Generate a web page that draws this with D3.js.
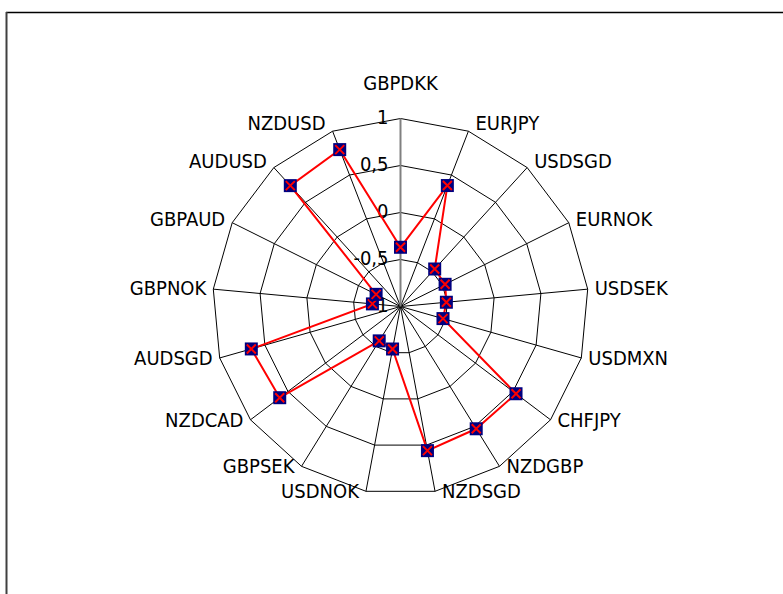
<!DOCTYPE html>
<html lang="en">
    <head>
        <meta charset="UTF-8">
        <title>Radar</title>
        <style>
            body {
                margin: 0;
                background: #fff;
            }
            svg {
                display: block;
            }
            text {
                font-family: "DejaVu Sans Condensed", "DejaVu Sans", sans-serif;
                font-stretch: condensed;
                font-size: 20px;
                fill: #000;
            }
            .grid {
                fill: none;
                stroke: #000;
                stroke-width: 1px;
            }
            .spoke {
                stroke: #000;
                stroke-width: 1px;
            }
            .value-axis {
                stroke: #808080;
                stroke-width: 2px;
            }
            .line {
                fill: none;
                stroke: #ff0000;
                stroke-width: 2px;
            }
            .dot {
                fill: #000080;
            }
            .cross {
                stroke: #ff0000;
                stroke-width: 2px;
            }
        </style>
    </head>

    <body>
        <script src="https://d3js.org/d3.v7.min.js"></script>
        <script>

            var categories = ["GBPDKK", "EURJPY", "USDSGD", "EURNOK", "USDSEK", "USDMXN", "CHFJPY", "NZDGBP", "NZDSGD",
                              "USDNOK", "GBPSEK", "NZDCAD", "AUDSGD", "GBPNOK", "GBPAUD", "AUDUSD", "NZDUSD"];
            var values = [-0.37, 0.38, -0.46, -0.47, -0.51, -0.53, 0.54, 0.53, 0.56,
                          -0.54, -0.57, 0.61, 0.65, -0.70, -0.71, 0.74, 0.79];
            var ticks = [-1, -0.5, 0, 0.5, 1];
            var tickLabels = ["-1", "-0,5", "0", "0,5", "1"];

            var width = 783,
                height = 594,
                cx = 400.5,
                cy = 306.5,
                radius = 188;

            var r = d3.scaleLinear()
                .domain([-1, 1])
                .range([0, radius]);

            var angle = d3.scalePoint()
                .domain(categories)
                .range([0, 2 * Math.PI * (categories.length - 1) / categories.length]);

            function px(c, v) { return Math.sin(angle(c)) * r(v); }
            function py(c, v) { return -Math.cos(angle(c)) * r(v); }

            var svg = d3.select("body").append("svg")
                .attr("width", width)
                .attr("height", height);

            // frame, cut off on the right and at the bottom
            svg.append("line")
                .attr("x1", 6).attr("x2", width).attr("y1", 12.5).attr("y2", 12.5)
                .attr("stroke", "#000").attr("stroke-width", 1.5);
            svg.append("line")
                .attr("x1", 6.5).attr("x2", 6.5).attr("y1", 12).attr("y2", height)
                .attr("stroke", "#404040").attr("stroke-width", 2);

            var g = svg.append("g")
                .attr("transform", "translate(" + cx + "," + cy + ")");

            // rings
            g.selectAll(".grid")
                .data(ticks.filter(function(t) { return t > -1; }))
                .enter().append("polygon")
                .attr("class", "grid")
                .attr("points", function(t) {
                    return categories.map(function(c) { return px(c, t) + "," + py(c, t); }).join(" ");
                });

            // spokes
            g.selectAll(".spoke")
                .data(categories.slice(1))
                .enter().append("line")
                .attr("class", "spoke")
                .attr("x1", 0).attr("y1", 0)
                .attr("x2", function(c) { return px(c, 1); })
                .attr("y2", function(c) { return py(c, 1); });

            g.append("line")
                .attr("class", "value-axis")
                .attr("x1", 0).attr("y1", 0)
                .attr("x2", px(categories[0], 1))
                .attr("y2", py(categories[0], 1));

            // tick labels on the value axis
            g.selectAll(".tick")
                .data(ticks)
                .enter().append("text")
                .attr("class", "tick")
                .attr("x", -12)
                .attr("y", function(t) { return -r(t) - 2; })
                .attr("text-anchor", "end")
                .attr("dominant-baseline", "central")
                .text(function(t, i) { return tickLabels[i]; });

            // category labels
            g.selectAll(".cat")
                .data(categories)
                .enter().append("text")
                .attr("class", "cat")
                .attr("x", function(c) {
                    var s = Math.sin(angle(c));
                    if (Math.abs(s) < 0.01) return px(c, 1);
                    return px(c, 1) + (s > 0 ? 7 : -7);
                })
                .attr("y", function(c) {
                    var k = Math.cos(angle(c));
                    if (Math.abs(Math.sin(angle(c))) < 0.01) return py(c, 1) - 36;
                    return py(c, 1) - 9 * Math.max(k, 0);
                })
                .attr("text-anchor", function(c) {
                    var s = Math.sin(angle(c));
                    if (Math.abs(s) < 0.01) return "middle";
                    return s > 0 ? "start" : "end";
                })
                .attr("dominant-baseline", "central")
                .text(function(c) { return c; });

            // series
            var data = categories.map(function(c, i) { return {c: c, v: values[i]}; });

            var line = d3.lineRadial()
                .angle(function(d) { return angle(d.c); })
                .radius(function(d) { return r(d.v); })
                .curve(d3.curveLinearClosed);

            g.append("path")
                .datum(data)
                .attr("class", "line")
                .attr("d", line);

            var m = g.selectAll(".marker")
                .data(data)
                .enter().append("g")
                .attr("class", "marker")
                .attr("transform", function(d) {
                    return "translate(" + px(d.c, d.v) + "," + py(d.c, d.v) + ")";
                });

            m.append("rect")
                .attr("class", "dot")
                .attr("x", -6.5).attr("y", -6.5)
                .attr("width", 13).attr("height", 13);

            m.append("path")
                .attr("class", "cross")
                .attr("d", "M-4.5,-4.5L4.5,4.5M4.5,-4.5L-4.5,4.5");
        </script>
    </body>

</html>
